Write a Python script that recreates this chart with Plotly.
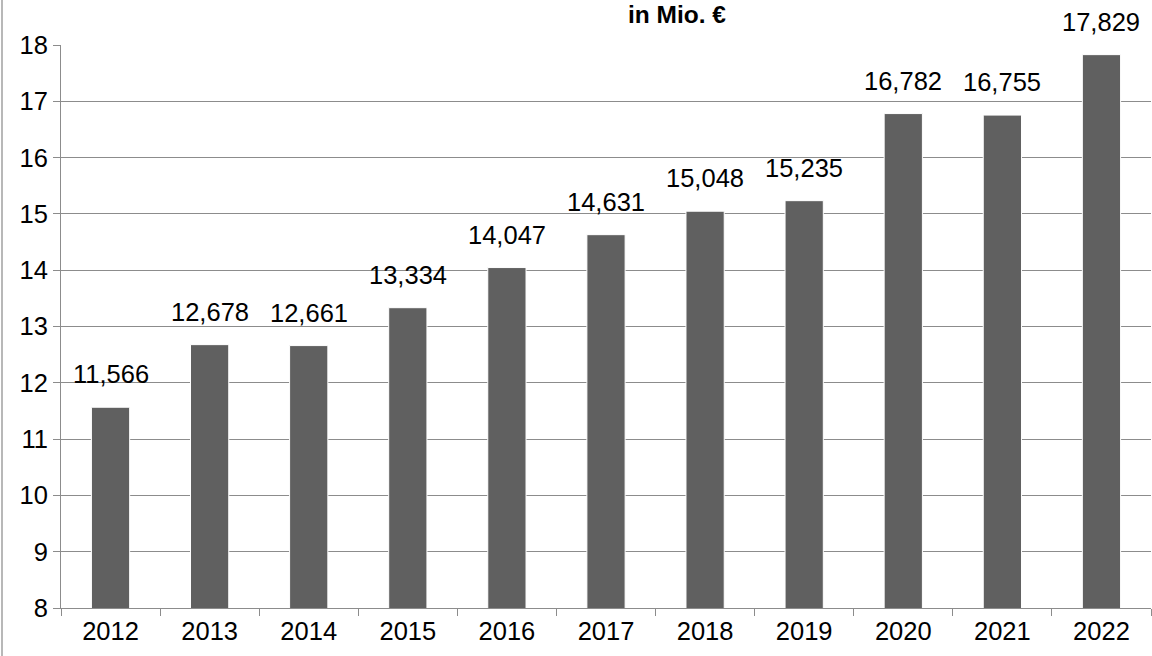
import plotly.graph_objects as go

years = ["2012", "2013", "2014", "2015", "2016", "2017", "2018", "2019", "2020", "2021", "2022"]
values = [11.566, 12.678, 12.661, 13.334, 14.047, 14.631, 15.048, 15.235, 16.782, 16.755, 17.829]
labels = [f"{v:.3f}".replace(".", ",") for v in values]
title = "in Mio. €"

grid = "#8c8c8c"
fs = 25.5
pw, ph = 1152 - 61 - 1, 656 - 45 - 48

fig = go.Figure(go.Bar(
    x=years,
    y=values,
    marker=dict(color="#606060", line=dict(color="white", width=1)),
))

# value labels; x given as category index (numeric-looking strings are read as indices)
for i, (v, lab) in enumerate(zip(values, labels)):
    fig.add_annotation(x=i, y=v, text=lab, showarrow=False,
                       yanchor="bottom", yshift=17,
                       font=dict(size=fs, color="black"))

# title (first line is cut off in the original)
fig.add_annotation(x=(677 - 61) / pw, y=(608 - 30) / ph, xref="paper", yref="paper",
                   text=f"<b>{title}</b>", showarrow=False, yanchor="bottom",
                   font=dict(size=24.5, color="black"))

fig.update_layout(
    width=1152, height=656,
    margin=dict(l=61, r=1, t=45, b=48),
    plot_bgcolor="white", paper_bgcolor="white",
    font=dict(family="Liberation Sans, Arial, sans-serif", color="black", size=fs),
    bargap=0.614,
    showlegend=False,
)

fig.update_xaxes(
    type="category", automargin=False,
    showline=True, linecolor=grid, linewidth=1,
    ticks="outside", tickson="boundaries", ticklen=7, tickcolor=grid,
    tickfont=dict(size=fs), showgrid=False,
)
fig.update_yaxes(
    range=[8, 18], dtick=1, automargin=False,
    showline=True, linecolor=grid, linewidth=1,
    ticks="outside", ticklen=7, tickcolor=grid,
    showgrid=True, gridcolor=grid, gridwidth=1,
    tickfont=dict(size=fs), zeroline=False,
)

fig.add_shape(type="line", xref="paper", yref="paper",
              x0=(2 - 61) / pw, x1=(2 - 61) / pw, y0=-48 / ph, y1=608 / ph,
              line=dict(color="#a0a0a0", width=1.5))

fig.write_html("out.html", config={"displayModeBar": False},
               post_script="document.body.style.margin='0';")
